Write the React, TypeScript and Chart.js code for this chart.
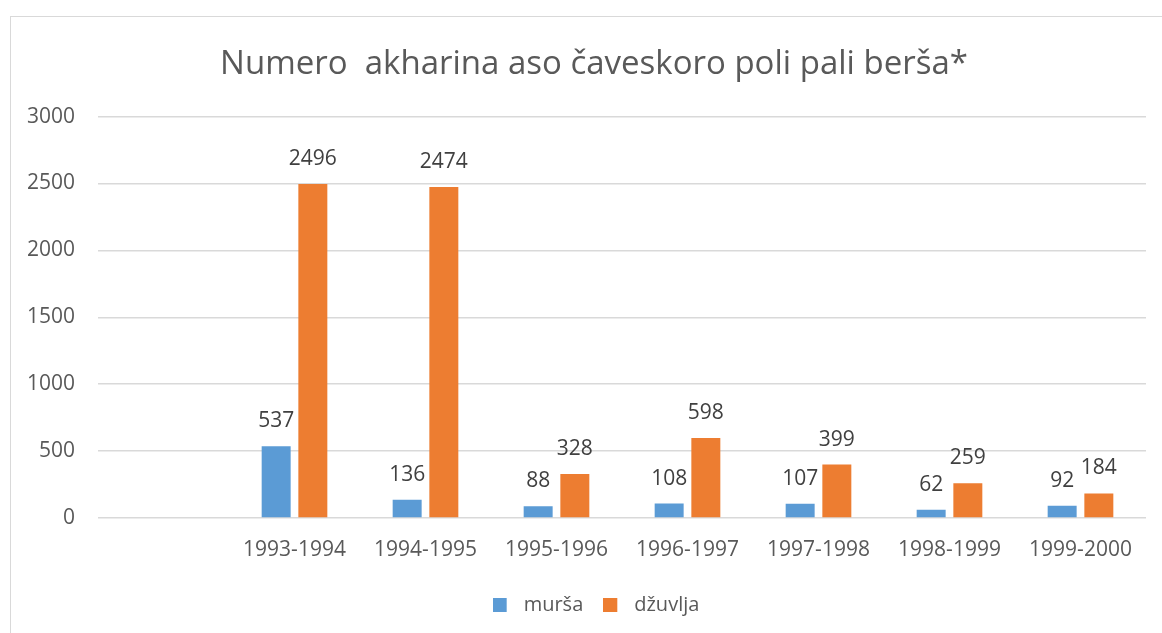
import React, { useEffect, useRef } from "react";
import { Chart, registerables } from "chart.js";

Chart.register(...registerables);

const categories = ["", "1993-1994", "1994-1995", "1995-1996", "1996-1997", "1997-1998", "1998-1999", "1999-2000"];
const mursaValues = [null, 537, 136, 88, 108, 107, 62, 92];
const dzuvljaValues = [null, 2496, 2474, 328, 598, 399, 259, 184];
const yTicks = [0, 500, 1000, 1500, 2000, 2500, 3000];
const titleText = "Numero  akharina aso čaveskoro poli pali berša*";
const seriesColors = ["#5B9BD5", "#ED7D31"];

const FONT = "'Open Sans', sans-serif";
const TEXT = "#595959";

function makeSwatch(color: string) {
  const c = document.createElement("canvas");
  c.width = 21;
  c.height = 14;
  const g = c.getContext("2d")!;
  g.fillStyle = color;
  g.fillRect(0, 0, 14, 14);
  return c;
}

const dataLabels = {
  id: "dataLabels",
  afterDatasetsDraw(chart: any) {
    const ctx = chart.ctx;
    ctx.save();
    ctx.font = `21px ${FONT}`;
    ctx.fillStyle = "#404040";
    ctx.textAlign = "center";
    ctx.textBaseline = "middle";
    chart.data.datasets.forEach((ds: any, i: number) => {
      const meta = chart.getDatasetMeta(i);
      meta.data.forEach((bar: any, j: number) => {
        const v = ds.data[j];
        if (v === null || v === undefined) return;
        ctx.fillText(String(v), bar.x, bar.y - 25);
      });
    });
    ctx.restore();
  },
};

const shiftBoxes = {
  id: "shiftBoxes",
  afterLayout(chart: any) {
    if (chart.titleBlock) {
      chart.titleBlock.left += 16;
      chart.titleBlock.right += 16;
    }
    if (chart.legend) {
      chart.legend.left += 18;
      chart.legend.right += 18;
    }
  },
};

export default function App() {
  const ref = useRef<HTMLCanvasElement>(null);
  useEffect(() => {
    const swatches = seriesColors.map(makeSwatch);
    const chart = new Chart(ref.current!, {
      type: "bar",
      data: {
        labels: categories,
        datasets: [
          { label: "murša", data: mursaValues, backgroundColor: seriesColors[0], categoryPercentage: 0.56, barPercentage: 0.79 },
          { label: "džuvlja", data: dzuvljaValues, backgroundColor: seriesColors[1], categoryPercentage: 0.56, barPercentage: 0.79 },
        ],
      },
      options: {
        animation: false,
        responsive: false,
        maintainAspectRatio: false,
        layout: { padding: { left: 10, right: 16, top: 0, bottom: 8 } },
        plugins: {
          title: {
            display: true,
            text: titleText,
            color: TEXT,
            font: { family: FONT, size: 33, weight: "normal" },
            padding: { top: 45, bottom: 32 },
          },
          legend: {
            position: "bottom",
            labels: {
              color: TEXT,
              font: { family: FONT, size: 20 },
              usePointStyle: true,
              pointStyleWidth: 21,
              boxHeight: 14,
              padding: 20,
              generateLabels: (c: any) => {
                const items = Chart.defaults.plugins.legend.labels.generateLabels(c);
                return items.map((it: any, i: number) => ({ ...it, pointStyle: swatches[i] }));
              },
            },
          },
          tooltip: { enabled: false },
        },
        scales: {
          x: {
            grid: { display: false, drawTicks: false },
            border: { display: false },
            afterFit: (scale: any) => {
              scale.height = 57;
            },
            ticks: { color: TEXT, font: { family: FONT, size: 21 }, padding: 19, maxRotation: 0, autoSkip: false },
          },
          y: {
            min: 0,
            max: 3000,
            afterBuildTicks: (scale: any) => {
              scale.ticks = yTicks.map((v) => ({ value: v }));
            },
            afterFit: (scale: any) => {
              scale.width = 88;
            },
            grid: { color: "#D9D9D9", lineWidth: 1.5, drawTicks: false },
            border: { display: false },
            ticks: {
              color: TEXT,
              font: { family: FONT, size: 21 },
              padding: 23,
              callback: (v: any) => String(v),
            },
          },
        },
      },
      plugins: [dataLabels, shiftBoxes],
    });
    return () => chart.destroy();
  }, []);
  return (
    <div style={{ position: "fixed", left: 0, top: 0, width: 1162, height: 633, background: "#fff" }}>
      <div style={{ position: "absolute", left: 10, top: 16, width: 1200, height: 700, border: "1.5px solid #D9D9D9", boxSizing: "border-box" }} />
      <canvas ref={ref} width={1162} height={633} style={{ position: "absolute", left: 0, top: 0 }} />
    </div>
  );
}
